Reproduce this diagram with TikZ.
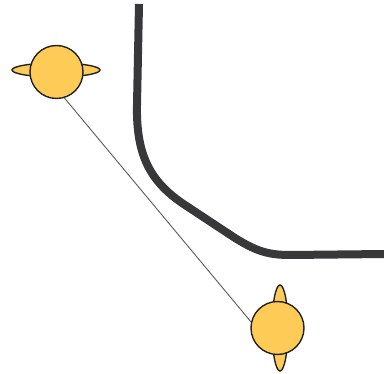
\documentclass[tikz,border=0pt]{standalone}
\usetikzlibrary{shapes.geometric}
\definecolor{ballfill}{HTML}{FFCB57}
\definecolor{ballline}{HTML}{222222}
\definecolor{wall}{HTML}{38383A}
\definecolor{link}{HTML}{5A5A5A}
\tikzset{
  ball/.style={circle, draw=ballline, fill=ballfill, line width=1.4pt, minimum size=53pt, inner sep=0pt},
  ring/.style={ellipse, draw=ballline, fill=ballfill, line width=1.4pt, inner sep=0pt},
  tether/.style={draw=link, line width=0.9pt},
  track/.style={draw=wall, line width=8pt}
}
\begin{document}
\begin{tikzpicture}[x=1pt,y=-1pt]
  \useasboundingbox (0,0) rectangle (384,374);
  % thick curved track
  \draw[track] (139,4) -- (137,105)
     .. controls (136,155) and (150,182) .. (185,205)
     -- (235,238)
     .. controls (256,251) and (268,255) .. (290,255)
     -- (386,254);
  % rings behind the balls
  \node[ring, minimum width=88pt, minimum height=14pt] (r1) at (56,70) {};
  \node[ring, minimum width=16pt, minimum height=86pt] (r2) at (280,328) {};
  % balls
  \node[ball] (b1) at (56.5,72) {};
  \node[ball] (b2) at (277.5,328) {};
  % tether between the balls
  \draw[tether] (b1.-73) -- (b2.167);
\end{tikzpicture}
\end{document}
